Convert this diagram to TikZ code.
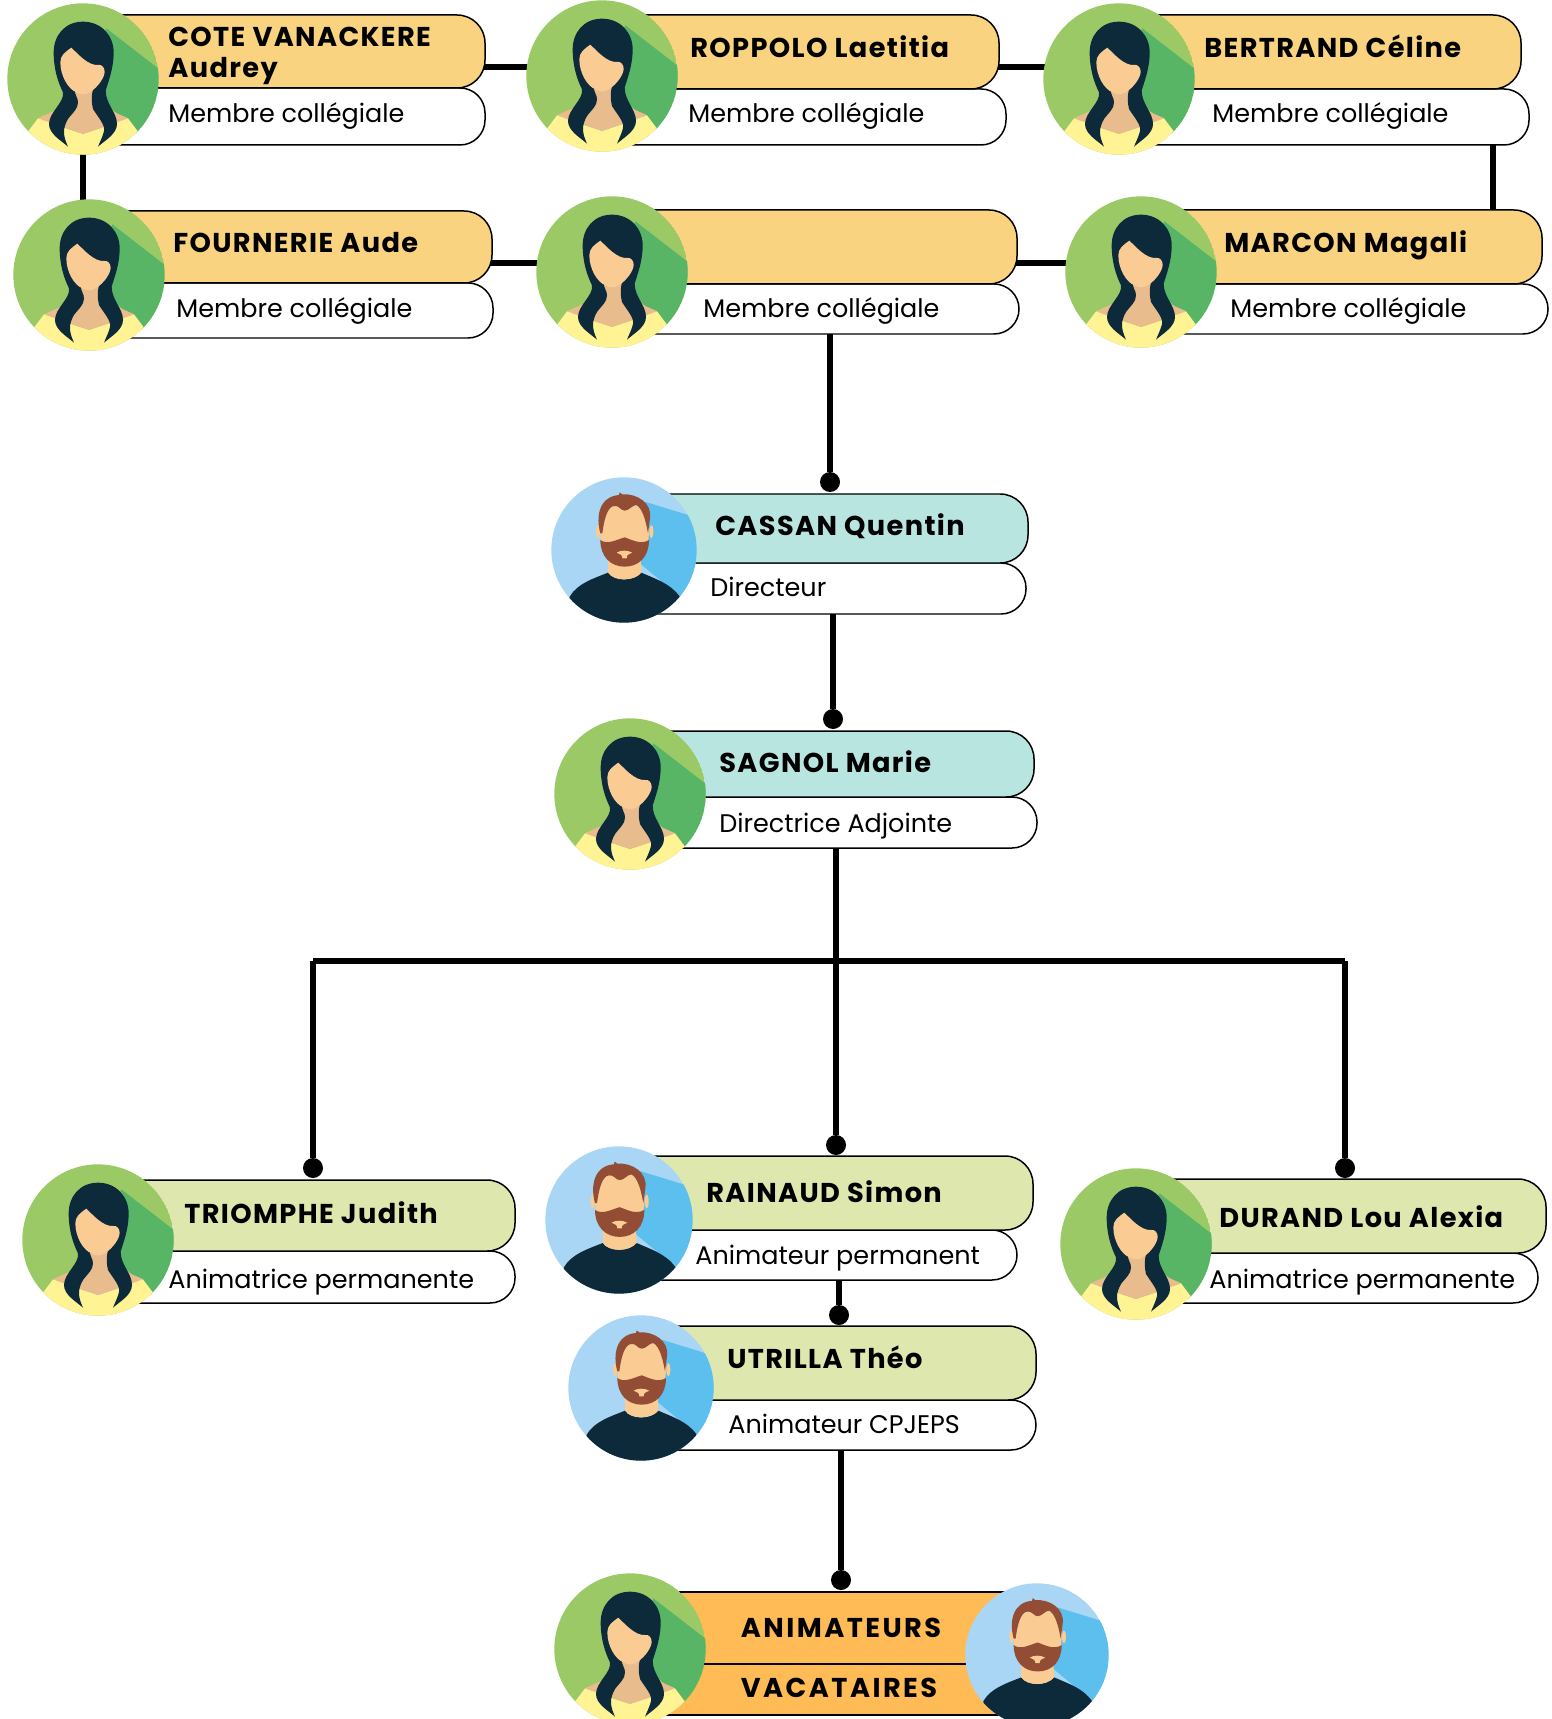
\documentclass[tikz,border=0pt]{standalone}
\usepackage{fontspec}
\setmainfont{Poppins}
\newfontfamily\namefont[LetterSpace=5]{Poppins}
\newfontfamily\gangfont[LetterSpace=9]{Poppins}
\usetikzlibrary{positioning, backgrounds, calc}

\definecolor{sand}{HTML}{FAD381}
\definecolor{aqua}{HTML}{B9E5E0}
\definecolor{lime}{HTML}{DEE7AE}
\definecolor{amber}{HTML}{FFBB55}
\definecolor{leaf}{HTML}{9AC966}
\definecolor{leafdark}{HTML}{58B566}
\definecolor{sky}{HTML}{A9D6F4}
\definecolor{skydark}{HTML}{5CBFEE}
\definecolor{ink}{HTML}{0C2A3A}
\definecolor{skin}{HTML}{FBCB94}
\definecolor{skinshade}{HTML}{E9BC8D}
\definecolor{top}{HTML}{FFF394}
\definecolor{rust}{HTML}{924D34}

\def\pxu{0.02cm}

\tikzset{
  woman/.pic={
    \begin{scope}[scale=1/3]
      \clip (0,0) circle (227);
      \fill[leaf] (0,0) circle (227);
      \fill[leafdark] (70,-152) -- (225,-32) -- (240,-32) -- (240,200) -- (160,163) -- (0,0) -- cycle;
      \fill[top] (-165,158) -- (-135,118) -- (-100,105) -- (-60,145) -- (0,165) -- (60,145) -- (100,105) -- (135,118) -- (165,158) -- (165,240) -- (-165,240) -- cycle;
      \fill[skinshade] (-135,118) -- (-30,70) -- (-30,20) -- (30,20) -- (30,70) -- (135,118) -- (60,145) -- (0,165) -- (-60,145) -- cycle;
      \fill[ink] (0,-172) .. controls (-55,-172) and (-88,-130) .. (-88,-80) .. controls (-88,-30) and (-75,10) .. (-60,40) .. controls (-55,70) and (-102,100) .. (-102,135) .. controls (-102,165) and (-65,185) .. (-45,203) .. controls (-60,170) and (-62,150) .. (-45,120) .. controls (-30,100) and (-15,90) .. (-15,70) .. controls (-15,55) and (-25,50) .. (-25,30) -- (30,30) .. controls (25,50) and (25,70) .. (30,90) .. controls (45,115) and (70,140) .. (62,160) .. controls (58,175) and (50,190) .. (45,203) .. controls (65,185) and (102,165) .. (102,135) .. controls (102,100) and (68,75) .. (68,35) .. controls (75,10) and (92,-30) .. (92,-80) .. controls (92,-130) and (55,-172) .. (0,-172) -- cycle;
      \fill[skin] (-35,-94) .. controls (-55,-80) and (-68,-70) .. (-68,-50) .. controls (-68,-10) and (-45,30) .. (-20,40) .. controls (-5,48) and (5,48) .. (20,40) .. controls (45,25) and (65,-5) .. (65,-22) .. controls (65,-35) and (55,-45) .. (45,-42) .. controls (15,-40) and (-15,-75) .. (-35,-94) -- cycle;
    \end{scope}
  },
  man/.pic={
    \begin{scope}[scale=1/3*227/218]
      \clip (0,0) circle (218);
      \fill[sky] (0,0) circle (218);
      \fill[skydark] (62,-145) -- (192,-105) -- (230,-105) -- (230,140) -- (167,140) -- (0,0) -- cycle;
      \fill[ink] (-163,140) .. controls (-140,100) and (-90,85) .. (-48,68) .. controls (-30,95) and (30,95) .. (52,68) .. controls (90,85) and (140,100) .. (167,140) -- (167,230) -- (-163,230) -- cycle;
      \fill[skin] (-48,20) -- (-48,68) .. controls (-30,95) and (30,95) .. (52,68) -- (50,20) -- cycle;
      \fill[skin] (-78,-55) ellipse (6 and 20);
      \fill[skin] (82,-55) ellipse (6 and 20);
      \fill[skin] (-71,-60) .. controls (-71,-170) and (75,-170) .. (75,-60) .. controls (75,0) and (50,50) .. (2,50) .. controls (-50,50) and (-71,0) .. (-71,-60) -- cycle;
      \fill[rust] (-71,-50) .. controls (-85,-100) and (-75,-160) .. (-15,-165) -- (-13,-173) -- (-5,-167) .. controls (40,-170) and (85,-140) .. (78,-95) -- (72,-50) .. controls (65,-90) and (55,-125) .. (37,-135) .. controls (25,-135) and (15,-118) .. (2,-118) .. controls (-10,-118) and (-15,-135) .. (-30,-132) .. controls (-50,-130) and (-60,-90) .. (-65,-50) -- cycle;
      \fill[rust] (-71,-30) .. controls (-50,-15) and (-25,-30) .. (2,-38) .. controls (25,-30) and (50,-15) .. (75,-30) .. controls (75,20) and (45,50) .. (2,50) .. controls (-40,50) and (-71,20) .. (-71,-30) -- cycle;
      \fill[skin] (-22,8) .. controls (-10,0) and (10,0) .. (25,8) .. controls (12,14) and (8,14) .. (8,25) -- (-5,25) .. controls (-5,14) and (-10,14) .. (-22,8) -- cycle;
    \end{scope}
  },
  facering/.style={circle, inner sep=0pt, outer sep=0pt},
  namebox/.style={draw, line width=0.85pt, rounded corners=0.56cm, inner sep=0pt, outer sep=0pt},
  rolebox/.style={draw, fill=white, line width=0.85pt, rounded corners=0.5cm, inner sep=0pt, outer sep=0pt},
  nametext/.style={font=\fontsize{15.5}{17.5}\selectfont\namefont\bfseries, align=left, anchor=base west, inner sep=0pt},
  roletext/.style={font=\fontsize{14.5}{16}\selectfont, anchor=base west, inner sep=0pt},
  gangtext/.style={font=\fontsize{15.5}{17.5}\selectfont\gangfont\bfseries, anchor=center, inner sep=0pt},
  link/.style={line width=3.1pt},
  knob/.style={circle, fill=black, minimum size=0.4cm, inner sep=0pt, outer sep=0pt},
  gangbox/.style={draw, fill=amber, line width=0.85pt, inner sep=0pt, outer sep=0pt, minimum width=7.8cm},
}

\begin{document}
\begin{tikzpicture}[x=\pxu, y=-\pxu]
  \clip[use as bounding box] (0,0) rectangle (1551,1719);

  \foreach \id/\face/\cx/\cy/\fr/\nr/\nt/\nb/\rr/\rb/\col/\nx/\ny/\rx/\ry/\nm/\rl in {
    cote/woman/83/79/76/485/15/88/485/145/sand/168/77.5/168/122.7/{COTE VANACKERE\\Audrey}/Membre collégiale,
    roppolo/woman/602/76/76/999/15/89/1006/145/sand/690/57.7/688/122.7/{ROPPOLO Laetitia}/Membre collégiale,
    bertrand/woman/1119/79/76/1521/15/89/1529/145/sand/1204/57.7/1212/122.7/{BERTRAND Céline}/Membre collégiale,
    fournerie/woman/89/275/76/492/211/283/493/338/sand/173/253/176/317.5/{FOURNERIE Aude}/Membre collégiale,
    vacant/woman/612/272/76/1017/210/284/1019/334/sand/700/253/703/317.5/{}/Membre collégiale,
    marcon/woman/1141/272/76/1542/210/284/1548/334/sand/1224/253/1230/317.5/{MARCON Magali}/Membre collégiale,
    cassan/man/624/550/73/1028/494/563/1026/614/aqua/715/535/710/596/{CASSAN Quentin}/Directeur,
    sagnol/woman/630/794/76/1034/731/797/1037/848/aqua/719/772/719/832.7/{SAGNOL Marie}/Directrice Adjointe,
    triomphe/woman/98/1240/76/515/1180/1251/515/1303/lime/184/1223/168/1288.6/{TRIOMPHE Judith}/Animatrice permanente,
    rainaud/man/619/1220/74/1033/1156/1230/1017/1280/lime/706/1202/695/1264.5/{RAINAUD Simon}/Animateur permanent,
    durand/woman/1136/1244/76/1546/1179/1253/1538/1303/lime/1219/1227/1209/1288.6/{DURAND Lou Alexia}/Animatrice permanente,
    utrilla/man/641/1388/73/1036/1326/1400/1036/1450/lime/727/1368.5/728/1433.4/{UTRILLA Théo}/Animateur CPJEPS%
  } {
    \node[rolebox, minimum width={(\rr-\cx)*\pxu}, minimum height={(\rb-\nb)*\pxu}] (\id-role) at ({(\rr+\cx)/2},{(\rb+\nb)/2}) {};
    \node[namebox, fill=\col, minimum width={(\nr-\cx)*\pxu}, minimum height={(\nb-\nt)*\pxu}] (\id-name) at ({(\nr+\cx)/2},{(\nb+\nt)/2}) {};
    \node[nametext] (\id-label) at (\nx,\ny) {\nm};
    \node[roletext] (\id-job) at (\rx,\ry) {\rl};
    \node[facering, minimum size={2*\fr*\pxu}] (\id-face) at (\cx,\cy) {};
    \pic[scale=\fr/76] at (\cx,\cy) {\face};
  }

  % team at the bottom
  \node[gangbox, minimum height=1.44cm] (gang-top) at (850,1628) {};
  \node[gangbox, minimum height=1.02cm] (gang-low) at (850,1689.5) {};
  \node[gangtext] (gang-top-label) at (841,1628) {ANIMATEURS};
  \node[gangtext] (gang-low-label) at (839,1688) {VACATAIRES};
  \node[facering, minimum size=3.04cm] (gang-woman) at (630,1649) {};
  \pic at (630,1649) {woman};
  \node[facering, minimum size=2.88cm] (gang-man) at (1037,1655) {};
  \pic[scale=72/76] at (1037,1655) {man};

  \node[knob] (cassan-knob) at (830,482) {};
  \node[knob] (sagnol-knob) at (833,719) {};
  \node[knob] (rainaud-knob) at (836,1145) {};
  \node[knob] (triomphe-knob) at (313,1168) {};
  \node[knob] (durand-knob) at (1345,1168) {};
  \node[knob] (utrilla-knob) at (839,1315) {};
  \node[knob] (gang-knob) at (841,1580) {};

  \coordinate (toprow) at (0,67);
  \coordinate (midrow) at (0,263);
  \coordinate (sidelink) at (1493,0);
  \coordinate (hub-left) at (313,961);
  \coordinate (hub-right) at (1345,961);

  \begin{scope}[on background layer]
    \draw[link] (cote-name.center |- toprow) -- (roppolo-face.center |- toprow);
    \draw[link] (roppolo-name.center |- toprow) -- (bertrand-face.center |- toprow);
    \draw[link] (fournerie-name.center |- midrow) -- (vacant-face.center |- midrow);
    \draw[link] (vacant-name.center |- midrow) -- (marcon-face.center |- midrow);
    \draw[link] (sidelink |- bertrand-role.center) -- (sidelink |- marcon-name.center);
    \draw[link] (cote-face.center) -- (cote-face.center |- fournerie-face.center);
  \end{scope}

  \draw[link] (cassan-knob |- vacant-role.south) -- (cassan-knob);
  \draw[link] (sagnol-knob |- cassan-role.south) -- (sagnol-knob);
  \draw[link] (rainaud-knob |- sagnol-role.south) -- (rainaud-knob);
  \draw[link] (hub-left) -- (hub-right);
  \draw[link] (hub-left) -- (triomphe-knob);
  \draw[link] (hub-right) -- (durand-knob);
  \draw[link] (utrilla-knob |- rainaud-role.south) -- (utrilla-knob);
  \draw[link] (gang-knob |- utrilla-role.south) -- (gang-knob);
\end{tikzpicture}
\end{document}
